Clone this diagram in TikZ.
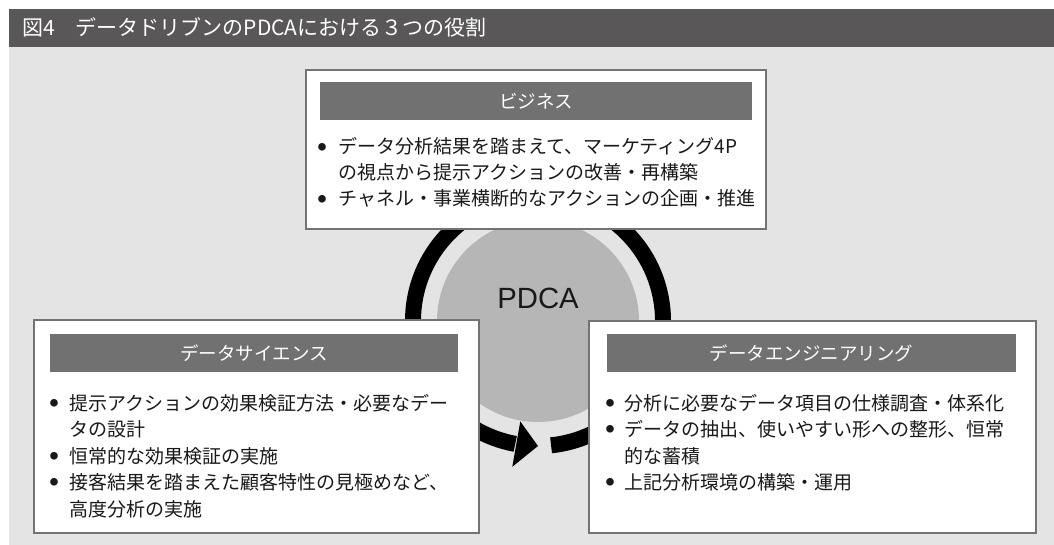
\documentclass[tikz,border=0pt]{standalone}
\usepackage{fontspec}
\setmainfont{Noto Sans CJK JP}
\newfontfamily\latinsans{Liberation Sans}
\usetikzlibrary{calc}
\definecolor{titlebar}{HTML}{595757}
\definecolor{panel}{HTML}{E4E4E4}
\definecolor{headbar}{HTML}{717171}
\definecolor{boxline}{HTML}{737373}
\definecolor{circlefill}{HTML}{B5B6B5}
\newcommand\listdot[1]{\llap{\makebox[0pt][c]{\raisebox{3.6pt}{\fontsize{8.5}{9}\selectfont ●}}\hspace{#1pt}}}
\tikzset{
  rolebox/.style={draw=boxline, line width=2pt, fill=white, anchor=north west, inner sep=0pt},
  headbox/.style={fill=headbar, anchor=north west, inner sep=0pt, text=white,
                  font=\fontsize{18.5}{22}\selectfont},
  bodyline/.style={inner sep=0pt, anchor=base west, text=black!90,
                   font=\fontsize{19}{26}\selectfont},
  ring/.style={line width=16pt, draw=black},
}
\begin{document}
\begin{tikzpicture}[x=1pt, y=-1pt]
\useasboundingbox (0,0) rectangle (1054,545);
% background
\fill[panel] (9,47) rectangle (1054,545);
\fill[titlebar] (9,9) rectangle (1054,47);
\node[inner sep=0pt, anchor=base west, text=white, font=\fontsize{21}{24}\selectfont]
  (title) at (22,36) {図4　データドリブンのPDCAにおける３つの役割};

% hub
\node[circle, fill=circlefill, minimum size=202pt, inner sep=0pt] (hub) at (538,321) {};
\draw[ring] ($(hub.center)+(270:125)$) arc[start angle=270, end angle=100.5, radius=125];
\fill ($(hub.center)+(100:102)$) -- ($(hub.center)+(90:125)$) -- ($(hub.center)+(100:148)$) -- cycle;
\draw[ring] ($(hub.center)+(84:125)$) arc[start angle=84, end angle=-90, radius=125];
\node[inner sep=0pt, anchor=base, text=black!90, font=\latinsans\fontsize{29.3}{32}\selectfont]
  (pdca) at (538,308) {PDCA};

% business
\node[rolebox, minimum width=460pt, minimum height=159pt] (biz) at (305,69) {};
\node[headbox, minimum width=432pt, minimum height=38pt] (bizh) at (320,82) {ビジネス};
\node[bodyline] (b1) at (338,154) {\listdot{16}データ分析結果を踏まえて、マーケティング4P};
\node[bodyline] (b2) at (338,180) {の視点から提示アクションの改善・再構築};
\node[bodyline] (b3) at (338,206) {\listdot{16}チャネル・事業横断的なアクションの企画・推進};

% data science
\node[rolebox, minimum width=445pt, minimum height=213pt] (sci) at (33,319) {};
\node[headbox, minimum width=408pt, minimum height=38pt] (scih) at (50,334) {データサイエンス};
\node[bodyline] (s1) at (69,410) {\listdot{15}提示アクションの効果検証方法・必要なデー};
\node[bodyline] (s2) at (69,436.5) {タの設計};
\node[bodyline] (s3) at (69,463) {\listdot{15}恒常的な効果検証の実施};
\node[bodyline] (s4) at (69,489.5) {\listdot{15}接客結果を踏まえた顧客特性の見極めなど、};
\node[bodyline] (s5) at (69,516) {高度分析の実施};

% data engineering
\node[rolebox, minimum width=447pt, minimum height=212pt] (eng) at (588,320) {};
\node[headbox, minimum width=409pt, minimum height=38pt] (engh) at (607,334) {データエンジニアリング};
\node[bodyline] (e1) at (624,410) {\listdot{14}分析に必要なデータ項目の仕様調査・体系化};
\node[bodyline] (e2) at (624,436.5) {\listdot{14}データの抽出、使いやすい形への整形、恒常};
\node[bodyline] (e3) at (624,463) {的な蓄積};
\node[bodyline] (e4) at (624,489.5) {\listdot{14}上記分析環境の構築・運用};
\end{tikzpicture}
\end{document}
